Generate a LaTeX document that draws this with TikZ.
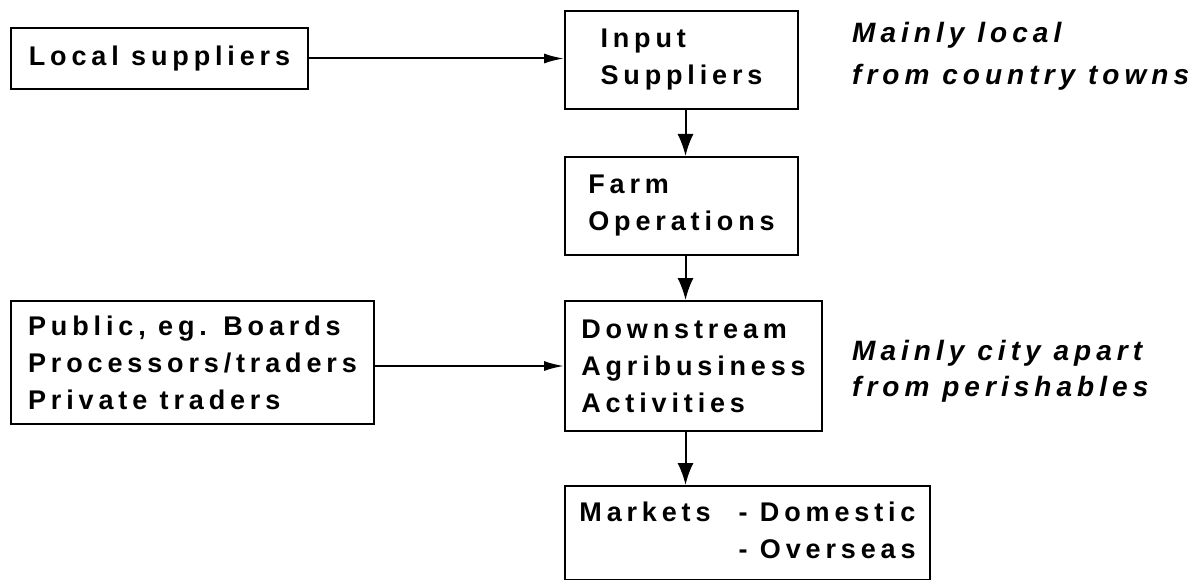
\documentclass[tikz,border=0pt]{standalone}
\usepackage{fontspec}
\setmainfont{Liberation Sans}[LetterSpace=18]
\usetikzlibrary{arrows.meta}

\tikzset{
	box/.style={draw, line width=2pt, anchor=north west, align=left, inner sep=0pt, font=\fontsize{27}{37}\bfseries\selectfont},
	note/.style={anchor=north west, align=left, inner sep=0pt, font=\fontsize{28}{42}\bfseries\itshape\selectfont},
	flow/.style={line width=2pt, -{Latex[length=22pt,width=16pt]}},
	feed/.style={line width=2pt, -{Latex[length=20pt,width=10pt]}}
}

\begin{document}
\begin{tikzpicture}[x=1pt,y=-1pt]

	% frame
	\useasboundingbox (0,0) rectangle (1199,580);

	% chain
	\node[box, minimum width=233, minimum height=98] (input) at (564,10) {Input\\Suppliers};
	\node[box, minimum width=233, minimum height=98] (farm) at (564,156) {Farm\\Operations};
	\node[box, minimum width=257, minimum height=130] (down) at (564,300) {Downstream\\Agribusiness\\Activities};
	\node[box, minimum width=365, minimum height=94] (markets) at (564,485) {\begin{tabular}{@{}l@{\hspace{28pt}}l@{}}Markets & - Domestic\\ & - Overseas\end{tabular}};

	% sources
	\node[box, minimum width=297, minimum height=61] (local) at (10,27) {Local suppliers};
	\node[box, minimum width=363, minimum height=123] (public) at (10,300) {Public, eg. Boards\\Processors/traders\\Private traders};

	% notes
	\node[note] (noteup) at (852,22) {Mainly local\\from country towns};
	\node[note, font=\fontsize{28}{36}\bfseries\itshape\selectfont] (notedown) at (852,340) {Mainly city apart\\from perishables};

	% arrows
	\draw[feed] (local.east) -- (local.east -| input.west);
	\draw[feed] (down.west -| public.east) -- (down.west);
	\draw[flow] ([xshift=4pt]input.south) -- ([xshift=4pt]farm.north);
	\draw[flow] ([xshift=4pt]farm.south) -- ([xshift=4pt]farm.south |- down.north);
	\draw[flow] ([xshift=4pt]farm.south |- down.south) -- ([xshift=4pt]farm.south |- markets.north);

\end{tikzpicture}
\end{document}
